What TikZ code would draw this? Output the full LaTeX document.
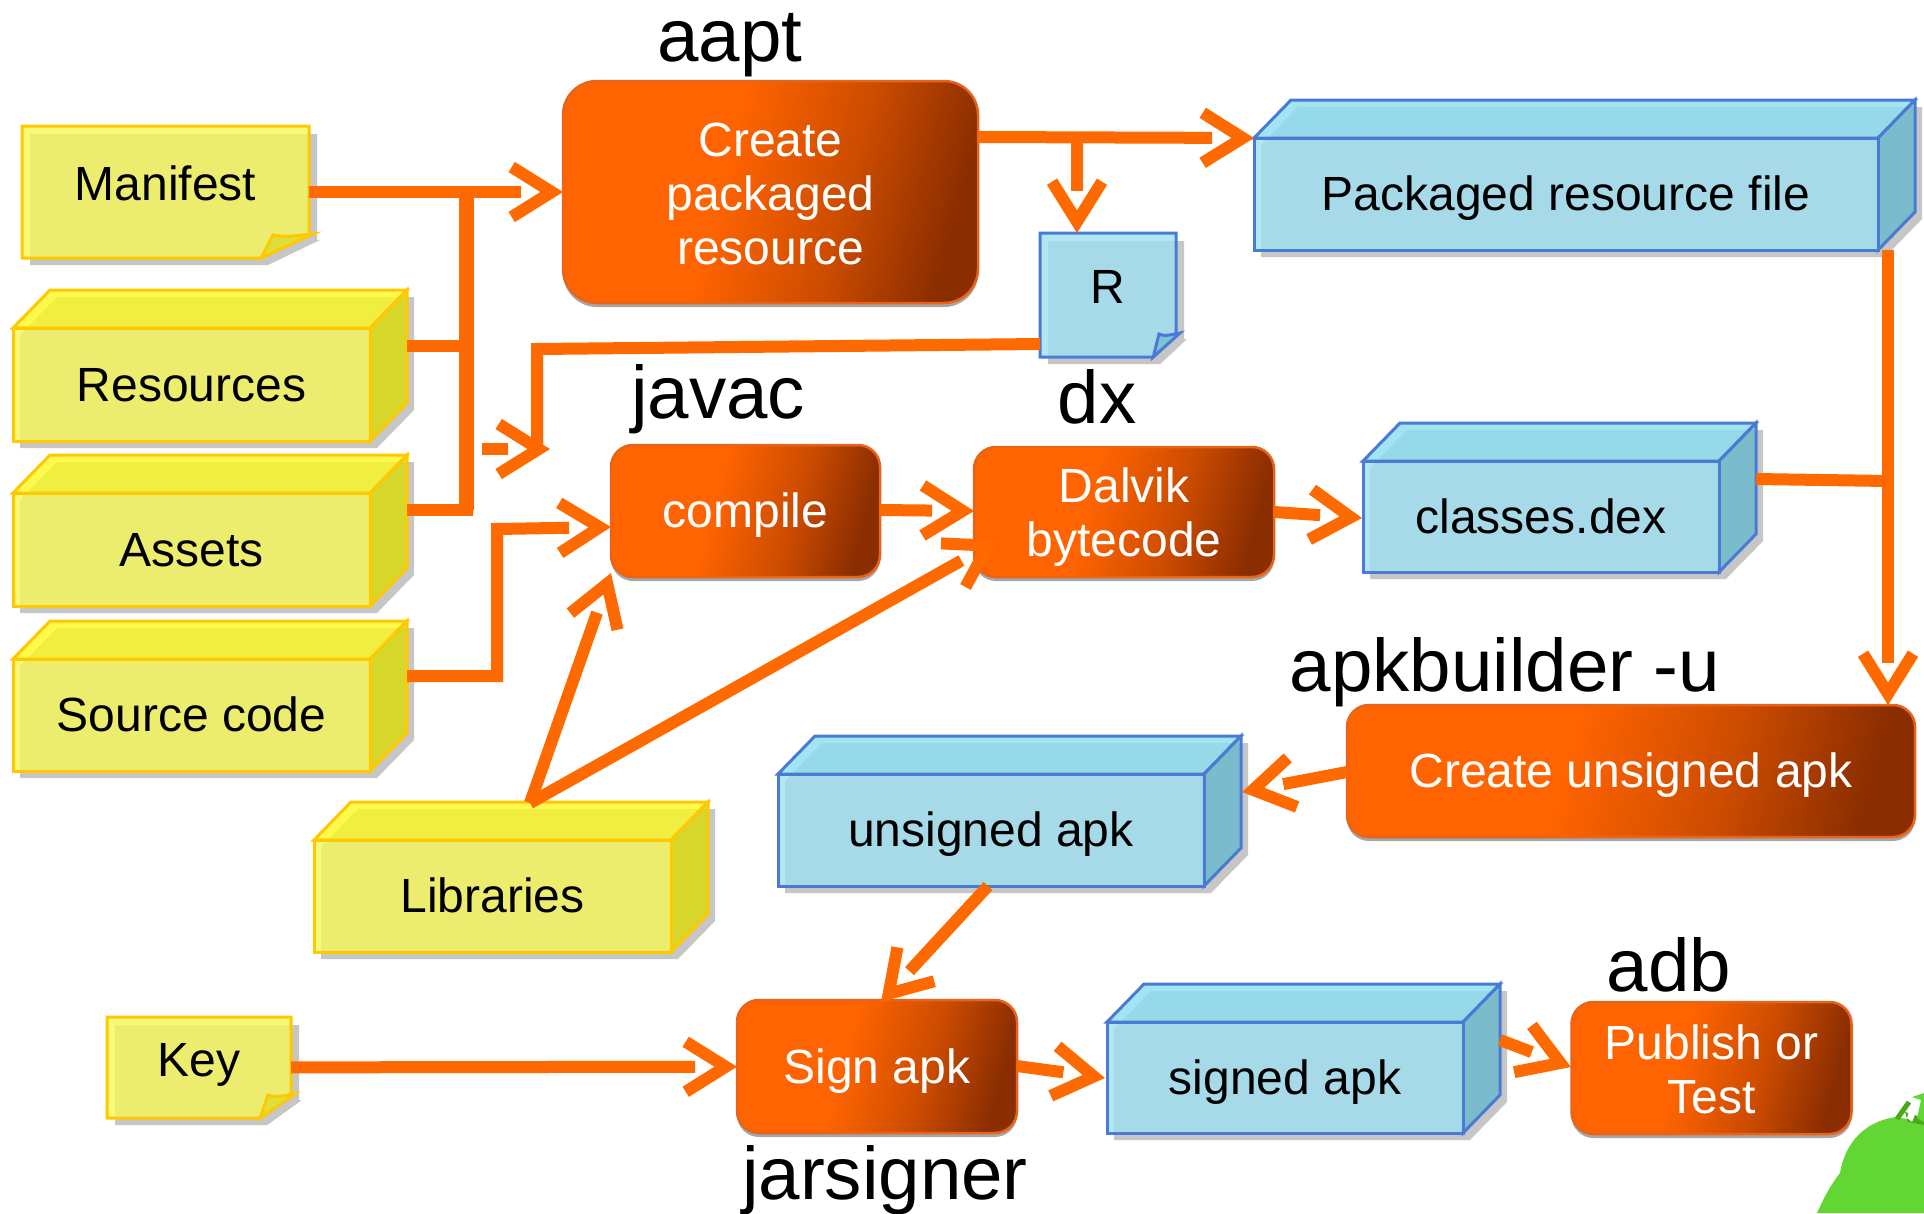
\documentclass[tikz,border=0pt]{standalone}
\usepackage{fontspec}
\setmainfont{Liberation Sans}
\usetikzlibrary{arrows.meta,decorations.markings,shadows}

\definecolor{flowc}{HTML}{FF6A00}
\definecolor{procor}{HTML}{FF6400}
\definecolor{procmd}{HTML}{CC4C00}
\definecolor{procdk}{HTML}{8A2D00}
\definecolor{procln}{HTML}{E8641A}
\definecolor{shadowc}{HTML}{C6C6C6}
\definecolor{yfront}{RGB}{246,246,88}
\definecolor{ytop}{RGB}{252,248,33}
\definecolor{yside}{RGB}{218,218,5}
\definecolor{yfold}{RGB}{222,222,60}
\definecolor{yline}{HTML}{FFC800}
\definecolor{bfront}{RGB}{160,224,241}
\definecolor{btop}{RGB}{138,222,242}
\definecolor{bside}{RGB}{103,185,206}
\definecolor{bfold}{RGB}{125,195,215}
\definecolor{bline}{HTML}{4A7BD4}
\definecolor{droidc}{HTML}{62D633}
\definecolor{droiddk}{HTML}{4CA81A}

\pgfdeclarehorizontalshading{procfill}{100bp}{color(0bp)=(procor); color(43bp)=(procor); color(60bp)=(procmd); color(75bp)=(procdk); color(100bp)=(procdk)}

\tikzset{
  basefont/.style={font=\fontsize{48}{54}\selectfont},
  oneline/.style={text height=33pt, text depth=0pt},
  tool/.style={font=\fontsize{74.5}{80}\selectfont, anchor=base, inner sep=0pt},
  boxtext/.style={basefont, oneline, inner sep=0pt, outer sep=0pt},
  proc/.style={basefont, rectangle, rounded corners=22pt, draw=procln, line width=2.5pt,
    shading=procfill, shading angle=-15, text=white, align=center, inner sep=0pt, outer sep=0pt,
    drop shadow={shadow xshift=0pt, shadow yshift=-4pt, fill=black, opacity=.35}},
  wire/.style={draw=flowc, line width=12pt},
  flow/.style={wire, shorten >=42pt, postaction={decorate},
    decoration={markings, mark=at position 1 with
      {\arrow{Straight Barb[length=40pt,width=50pt,line width=12pt,color=flowc]}}}},
}

% name, colour prefix, front x1 y1 x2 y2, text
\newcommand{\cuboid}[7]{
  \pgfmathsetmacro\boxw{#5-#3}
  \pgfmathsetmacro\boxh{#6-#4}
  \fill[shadowc] (#3+7,#6+7) -- (#5+7,#6+7) -- (#5+44,#6-31) -- (#5+44,#4-31) -- (#3+44,#4-31) -- (#3+7,#4+7) -- cycle;
  \filldraw[fill=#2top, fill opacity=.8, draw=#2line, line width=3pt] (#3,#4) -- (#3+37,#4-38) -- (#5+37,#4-38) -- (#5,#4) -- cycle;
  \filldraw[fill=#2side, fill opacity=.8, draw=#2line, line width=3pt] (#5,#4) -- (#5+37,#4-38) -- (#5+37,#6-38) -- (#5,#6) -- cycle;
  \filldraw[fill=#2front, fill opacity=.8, draw=#2line, line width=3pt] (#3,#4) rectangle (#5,#6);
  \node[boxtext, minimum width=\boxw pt, minimum height=\boxh pt] (#1) at ({(#3+#5)/2},{(#4+#6)/2}) {#7};
}

% name, colour prefix, x1 y1 x2 y2, text
\newcommand{\note}[7]{
  \pgfmathsetmacro\boxw{#5-#3}
  \pgfmathsetmacro\boxh{#6-#4}
  \pgfmathsetmacro\foldw{.167*\boxw}
  \fill[shadowc] (#3+8,#4+8) -- (#5+8,#4+8) -- (#5+8,#6-18) -- (#5+11,#6-18) -- (#5-\foldw+7,#6+7) -- (#3+8,#6+7) -- cycle;
  \filldraw[fill=#2front, fill opacity=.8, draw=#2line, line width=3pt] (#3,#4) -- (#5,#4) -- (#5,#6-23) -- (#5-\foldw,#6) -- (#3,#6) -- cycle;
  \filldraw[fill=#2fold, draw=#2line, line width=3pt] (#5-\foldw,#6) -- (#5-.75*\foldw,#6-23) .. controls (#5-.5*\foldw,#6-21) .. (#5+4,#6-24) -- cycle;
  \node[boxtext, minimum width=\boxw pt, minimum height=\boxh pt] (#1) at ({(#3+#5)/2},{(#4+#6)/2}) {\raisebox{8pt}{#7}};
}

\begin{document}
\begin{tikzpicture}[x=1pt,y=-1pt]
  \useasboundingbox (0,0) rectangle (1924,1213);

  % the droid in the corner
  \fill[droidc] (1817,1213) .. controls (1825,1195) and (1832,1183) .. (1840,1173)
    .. controls (1844,1148) and (1860,1122) .. (1896,1117) -- (1924,1122) -- (1924,1213) -- cycle;
  \draw[droiddk, line width=5pt] (1897,1119) -- (1909,1102);
  \fill[droiddk] (1905,1112) -- (1924,1118) -- (1924,1125) -- (1908,1122) -- cycle;
  \fill[white] (1911,1104) -- (1920,1100) -- (1916,1112) -- (1912,1122) -- (1907,1118) -- cycle;
  \fill[droidc] (1912,1097) -- (1924,1093) -- (1924,1122) -- (1917,1118) -- (1921,1100) -- cycle;

  % inputs
  \note{man}{y}{22}{126}{309}{258}{Manifest}
  \cuboid{res}{y}{13}{328}{370}{441}{Resources}
  \cuboid{ass}{y}{13}{493}{370}{606}{Assets}
  \cuboid{src}{y}{13}{659}{370}{771}{Source code}
  \cuboid{lib}{y}{314}{840}{671}{952}{Libraries}
  \note{key}{y}{107}{1017}{291}{1118}{Key}

  % generated files
  \cuboid{prf}{b}{1254}{138}{1878}{250}{Packaged resource file}
  \note{rjava}{b}{1040}{233}{1176}{357}{R}
  \cuboid{dex}{b}{1363}{461}{1719}{572}{classes.dex}
  \cuboid{uapk}{b}{778}{774}{1204}{886}{unsigned apk}
  \cuboid{sapk}{b}{1107}{1022}{1463}{1133}{signed apk}

  % steps
  \node[proc, rounded corners=34pt, minimum width=415pt, minimum height=222pt] (aapt) at (770.5,192) {\rule{0pt}{38pt}Create\\packaged\\resource};
  \node[proc, oneline, minimum width=269pt, minimum height=132pt] (comp) at (745.5,511) {compile};
  \node[proc, minimum width=300pt, minimum height=130pt] (dalv) at (1124,512) {\rule{0pt}{45pt}Dalvik\\bytecode};
  \node[proc, oneline, minimum width=568pt, minimum height=132pt] (ucrt) at (1631,771) {Create unsigned apk};
  \node[proc, oneline, minimum width=280pt, minimum height=133pt] (sign) at (877,1066.5) {Sign apk};
  \node[proc, minimum width=280pt, minimum height=132pt] (pub) at (1711.5,1068) {\rule{0pt}{38pt}Publish or\\Test};

  % tool names
  \node[tool] (t1) at (730,61) {aapt};
  \node[tool] (t2) at (718,418) {javac};
  \node[tool] (t3) at (1097,423) {dx};
  \node[tool] (t4) at (1505,691) {apkbuilder -u};
  \node[tool] (t5) at (1669,991) {adb};
  \node[tool] (t6) at (885,1199) {jarsigner};

  % free ends
  \coordinate (resout) at (407,346);
  \coordinate (assout) at (407,510);
  \coordinate (bustop) at (466,186);
  \coordinate (aaptout) at (978,137);
  \coordinate (rtee) at (1077,137);
  \coordinate (rin) at (1077,233);
  \coordinate (rout) at (1040,344);
  \coordinate (rturn) at (537,349);
  \coordinate (rend) at (537,449);
  \coordinate (stubs) at (482,449);
  \coordinate (stube) at (550,449);
  \coordinate (srcout) at (407,676);
  \coordinate (srcturn) at (497,529);
  \coordinate (compin) at (611,527);
  \coordinate (libtop) at (530,803);
  \coordinate (compl) at (611,573);
  \coordinate (dalvl) at (998,540);
  \coordinate (compout) at (880,510);
  \coordinate (dalvin) at (974,511);
  \coordinate (dalvout) at (1274,512);
  \coordinate (dexin) at (1362,518);
  \coordinate (prfout) at (1888,250);
  \coordinate (ucrtin) at (1888,705);
  \coordinate (dexout) at (1756,479);
  \coordinate (dextee) at (1888,481);
  \coordinate (ucrtout) at (1347,772);
  \coordinate (uapkin) at (1242,792);
  \coordinate (uapkout) at (988,886);
  \coordinate (signin) at (881,1002);
  \coordinate (signout) at (1017,1066);
  \coordinate (sapkin) at (1105,1078);
  \coordinate (sapkout) at (1500,1040);
  \coordinate (pubin) at (1571,1067);

  \draw[flow] (man) -- (aapt);
  \draw[wire] (resout) -- (resout -| bustop);
  \draw[wire, line width=15pt] (assout -| bustop) -- (bustop);
  \draw[wire] (assout) -- +(66,0);
  \draw[flow] (aaptout) -- (prf.north west);
  \draw[flow] (rtee) -- (rin);
  \draw[wire] (rout) -- (rturn) -- (rend);
  \draw[flow] (stubs) -- (stube);
  \draw[flow] (srcout) -| (srcturn) -- (compin);
  \draw[flow] (libtop) -- (compl);
  \draw[flow] (libtop) -- (dalvl);
  \draw[flow] (compout) -- (dalvin);
  \draw[flow] (dalvout) -- (dexin);
  \draw[flow] (prfout) -- (ucrtin);
  \draw[wire] (dexout) -- (dextee);
  \draw[flow] (ucrtout) -- (uapkin);
  \draw[flow] (uapkout) -- (signin);
  \draw[flow] (key) -- (sign);
  \draw[flow] (signout) -- (sapkin);
  \draw[flow] (sapkout) -- (pubin);
\end{tikzpicture}
\end{document}
